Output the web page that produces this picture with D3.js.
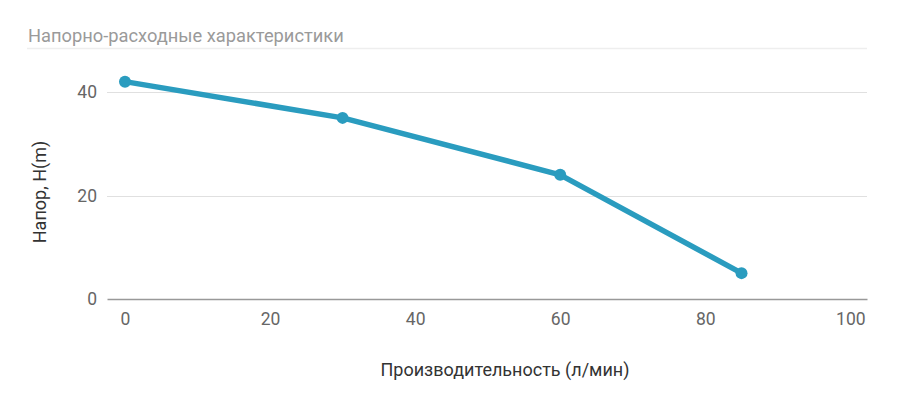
<!DOCTYPE html>
<html><head><meta charset="utf-8">
<script src="https://cdn.jsdelivr.net/npm/d3@7"></script>
<style>body{margin:0;background:#fff}svg{display:block}</style>
</head><body>
<svg id="c" width="900" height="400"></svg>
<script>
const flow = [0, 30, 60, 85];
const head = [42, 35, 24, 5];
const xTicks = [0, 20, 40, 60, 80, 100];
const yTicks = [0, 20, 40];
const title = "Напорно-расходные характеристики";
const xTitle = "Производительность (л/мин)";
const yTitle = "Напор, H(m)";

const svg = d3.select("#c");
const x = d3.scaleLinear().domain([-2.48, 102.3]).range([107, 867]);
const y = d3.scaleLinear().domain([0, 40]).range([299, 92]);

svg.append("text").attr("x", 28).attr("y", 42).attr("font-family", "Roboto").attr("font-size", 18.3)
  .attr("fill", "#9a9a9a").text(title);
svg.append("line").attr("x1", 27).attr("x2", 867).attr("y1", 48.5).attr("y2", 48.5)
  .attr("stroke", "#eeeeee").attr("stroke-width", 1.5);

// grid
svg.append("g").selectAll("line").data(yTicks.filter(d => d !== 0)).join("line")
  .attr("x1", x.range()[0]).attr("x2", x.range()[1])
  .attr("y1", d => Math.round(y(d)) + 0.5).attr("y2", d => Math.round(y(d)) + 0.5)
  .attr("stroke", "#e0e0e0");

const yAxis = svg.append("g").attr("transform", `translate(${x.range()[0]},0)`)
  .call(d3.axisLeft(y).tickValues(yTicks).tickSize(0).tickPadding(10));
yAxis.select(".domain").remove();
yAxis.selectAll("text").attr("font-family", "Roboto").attr("font-size", 17.5).attr("fill", "#666");

const xAxis = svg.append("g").attr("transform", `translate(0,${y(0)})`)
  .call(d3.axisBottom(x).tickValues(xTicks).tickSize(0).tickPadding(14));
xAxis.select(".domain").attr("stroke", "#999").attr("stroke-width", 1.5);
xAxis.selectAll("text").attr("font-family", "Roboto").attr("font-size", 17.5).attr("fill", "#666");

svg.append("text").attr("x", 505).attr("y", 376).attr("text-anchor", "middle")
  .attr("font-family", "Roboto").attr("font-size", 18).attr("fill", "#333").text(xTitle);
svg.append("text").attr("transform", "translate(46,192) rotate(-90)").attr("text-anchor", "middle")
  .attr("font-family", "Roboto").attr("font-size", 18).attr("fill", "#333").text(yTitle);

const pts = flow.map((f, i) => [f, head[i]]);
const color = "#2a9cbf";
svg.append("path").datum(pts)
  .attr("d", d3.line().x(d => x(d[0])).y(d => y(d[1])))
  .attr("fill", "none").attr("stroke", color).attr("stroke-width", 5.5)
  .attr("stroke-linejoin", "round").attr("stroke-linecap", "round");
svg.append("g").selectAll("circle").data(pts).join("circle")
  .attr("cx", d => x(d[0])).attr("cy", d => y(d[1])).attr("r", 6).attr("fill", color);
</script>
</body></html>
